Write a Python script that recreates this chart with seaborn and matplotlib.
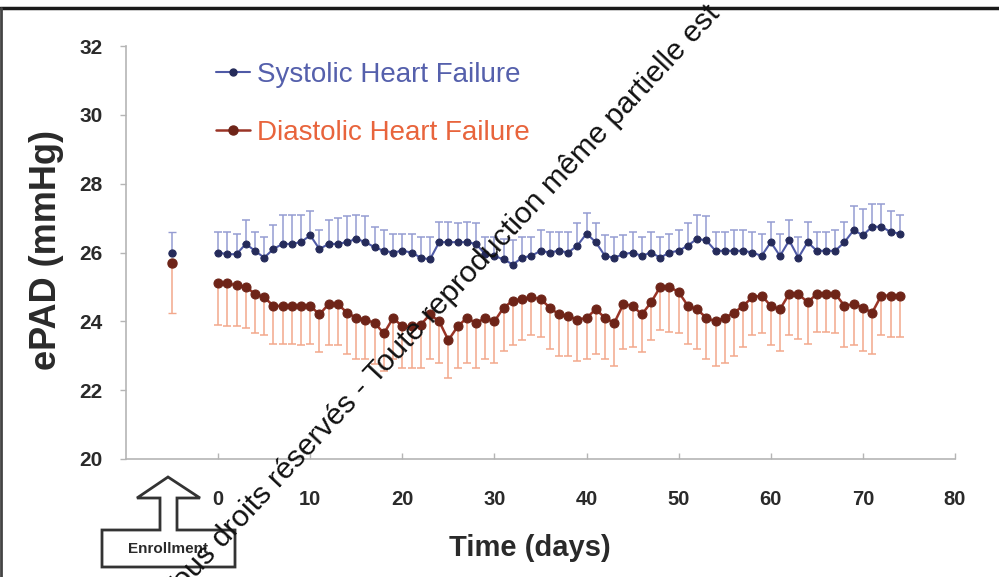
import numpy as np
import pandas as pd
import matplotlib
matplotlib.use("Agg")
import matplotlib.pyplot as plt
import seaborn as sns
from matplotlib.lines import Line2D
from matplotlib.patches import Polygon

# ---- data -------------------------------------------------------------
days = list(range(0, 75))

systolic = [
    26.0, 25.95, 25.95, 26.25, 26.05, 25.85, 26.1, 26.25, 26.25, 26.3,
    26.5, 26.1, 26.25, 26.25, 26.3, 26.4, 26.3, 26.15, 26.05, 26.0,
    26.05, 26.0, 25.85, 25.8, 26.3, 26.3, 26.3, 26.3, 26.25, 25.95,
    25.9, 25.8, 25.65, 25.85, 25.9, 26.05, 26.0, 26.05, 26.0, 26.2,
    26.55, 26.3, 25.9, 25.85, 25.95, 26.0, 25.9, 26.0, 25.85, 26.0,
    26.05, 26.2, 26.4, 26.35, 26.05, 26.05, 26.05, 26.05, 26.0, 25.9,
    26.3, 25.9, 26.35, 25.85, 26.3, 26.05, 26.05, 26.05, 26.3, 26.65,
    26.5, 26.75, 26.75, 26.6, 26.55,
]

diastolic = [
    25.1, 25.1, 25.05, 25.0, 24.8, 24.7, 24.45, 24.45, 24.45, 24.45,
    24.45, 24.2, 24.5, 24.5, 24.25, 24.1, 24.05, 23.95, 23.65, 24.1,
    23.85, 23.85, 23.9, 24.2, 24.0, 23.45, 23.85, 24.1, 23.95, 24.1,
    24.0, 24.4, 24.6, 24.65, 24.7, 24.65, 24.4, 24.2, 24.15, 24.05,
    24.1, 24.35, 24.1, 23.95, 24.5, 24.45, 24.2, 24.55, 25.0, 25.0,
    24.85, 24.45, 24.35, 24.1, 24.0, 24.1, 24.25, 24.45, 24.7, 24.75,
    24.45, 24.35, 24.8, 24.8, 24.55, 24.8, 24.8, 24.8, 24.45, 24.5,
    24.4, 24.25, 24.75, 24.75, 24.75,
]

# one-sided error bars: systolic drawn upward, diastolic downward
systolic_err_up = [
    0.6, 0.65, 0.6, 0.7, 0.55, 0.6, 0.7, 0.85, 0.85, 0.8,
    0.7, 0.55, 0.7, 0.75, 0.75, 0.7, 0.75, 0.6, 0.6, 0.55,
    0.5, 0.55, 0.6, 0.65, 0.6, 0.6, 0.55, 0.6, 0.6, 0.5,
    0.55, 0.6, 0.7, 0.6, 0.55, 0.6, 0.6, 0.55, 0.6, 0.65,
    0.6, 0.55, 0.6, 0.6, 0.55, 0.6, 0.55, 0.6, 0.6, 0.55,
    0.6, 0.65, 0.7, 0.7, 0.55, 0.55, 0.6, 0.6, 0.6, 0.65,
    0.6, 0.65, 0.6, 0.6, 0.6, 0.55, 0.55, 0.6, 0.6, 0.7,
    0.75, 0.65, 0.65, 0.6, 0.55,
]

diastolic_err_down = [
    1.2, 1.25, 1.2, 1.2, 1.15, 1.1, 1.1, 1.1, 1.1, 1.15,
    1.1, 1.1, 1.2, 1.2, 1.2, 1.2, 1.15, 1.2, 1.1, 1.2,
    1.2, 1.2, 1.25, 1.3, 1.2, 1.1, 1.2, 1.3, 1.3, 1.2,
    1.2, 1.25, 1.3, 1.2, 1.1, 1.1, 1.2, 1.2, 1.15, 1.2,
    1.2, 1.3, 1.2, 1.25, 1.3, 1.2, 1.1, 1.1, 1.25, 1.3,
    1.2, 1.1, 1.15, 1.2, 1.3, 1.3, 1.25, 1.2, 1.1, 1.1,
    1.15, 1.2, 1.2, 1.3, 1.2, 1.1, 1.1, 1.15, 1.2, 1.2,
    1.25, 1.2, 1.15, 1.2, 1.2,
]

enroll_day = [-5]
enroll_systolic = [26.0]
enroll_systolic_err = [0.6]
enroll_diastolic = [25.7]
enroll_diastolic_err = [1.45]

x_ticks = [0, 10, 20, 30, 40, 50, 60, 70, 80]
y_ticks = [20, 22, 24, 26, 28, 30, 32]
series_labels = ["Systolic Heart Failure", "Diastolic Heart Failure"]

# ---- colours -----------------------------------------------------------
SYS_LINE = "#4f5aa6"
SYS_MARK = "#252b5a"
SYS_ERR = "#959cd2"
SYS_TEXT = "#5560ac"
DIA_LINE = "#9a3426"
DIA_MARK = "#6e2418"
DIA_ERR = "#f3a88c"
DIA_TEXT = "#e8643c"
AXIS_GREY = "#b5b5b5"
TEXT_DARK = "#2a2a2a"

# ---- figure ------------------------------------------------------------
sns.set_theme(style="white")
plt.rcParams["font.family"] = ["Liberation Sans", "DejaVu Sans"]

W, H = 999, 577
fig = plt.figure(figsize=(W / 100, H / 100), dpi=100)
fig.patch.set_facecolor("white")


def fx(px):
    return px / W


def fy(py):
    return 1 - py / H


AX_L, AX_R, AX_T, AX_B = 126, 955, 46, 459
ax = fig.add_axes([fx(AX_L), fy(AX_B), fx(AX_R) - fx(AX_L), fy(AX_T) - fy(AX_B)])

df_sys = pd.DataFrame({"day": days, "ePAD": systolic})
df_dia = pd.DataFrame({"day": days, "ePAD": diastolic})

zeros = np.zeros(len(days))
ax.errorbar(days, systolic, yerr=[zeros, systolic_err_up], fmt="none",
            ecolor=SYS_ERR, elinewidth=1.1, capsize=3.2, capthick=1.1, zorder=2)
ax.errorbar(days, diastolic, yerr=[diastolic_err_down, zeros], fmt="none",
            ecolor=DIA_ERR, elinewidth=1.1, capsize=3.2, capthick=1.1, zorder=2)

sns.lineplot(data=df_sys, x="day", y="ePAD", ax=ax, color=SYS_LINE, lw=1.5,
             marker="o", markersize=5, markerfacecolor=SYS_MARK,
             markeredgecolor=SYS_MARK, zorder=4)
sns.lineplot(data=df_dia, x="day", y="ePAD", ax=ax, color=DIA_LINE, lw=1.8,
             marker="o", markersize=6.5, markerfacecolor=DIA_MARK,
             markeredgecolor=DIA_MARK, zorder=3)

# baseline values at enrollment
ax.errorbar(enroll_day, enroll_systolic, yerr=[[0], enroll_systolic_err], fmt="o",
            color=SYS_MARK, ms=5, ecolor=SYS_ERR, elinewidth=1.1, capsize=3.2, zorder=4)
ax.errorbar(enroll_day, enroll_diastolic, yerr=[enroll_diastolic_err, [0]], fmt="o",
            color=DIA_MARK, ms=6.5, ecolor=DIA_ERR, elinewidth=1.1, capsize=3.2, zorder=3)

ax.set_xlim(-10, 80)
ax.set_ylim(20, 32)
ax.set_xticks(x_ticks)
ax.set_yticks(y_ticks)
ax.set_xticklabels([str(t) for t in x_ticks], fontsize=14.5, fontweight="bold", color=TEXT_DARK)
ax.set_yticklabels([str(t) for t in y_ticks], fontsize=15, fontweight="bold", color=TEXT_DARK)
ax.tick_params(axis="x", direction="in", length=4, width=1, color=AXIS_GREY, pad=22, bottom=True)
ax.tick_params(axis="y", direction="out", length=4, width=1, color=AXIS_GREY, pad=13, left=True)

for side in ("top", "right"):
    ax.spines[side].set_visible(False)
for side in ("left", "bottom"):
    ax.spines[side].set_color(AXIS_GREY)
    ax.spines[side].set_linewidth(1.2)

ax.set_xlabel("Time (days)", fontsize=21, fontweight="bold", color=TEXT_DARK)
ax.set_ylabel("ePAD (mmHg)", fontsize=26, fontweight="bold", color=TEXT_DARK)
ax.xaxis.set_label_coords((530 - AX_L) / (AX_R - AX_L), (AX_B - 548) / (AX_B - AX_T))
ax.xaxis.label.set_va("center")
ax.yaxis.set_label_coords((47 - AX_L) / (AX_R - AX_L), (AX_B - 250) / (AX_B - AX_T))
ax.yaxis.label.set_va("center")

handles = [
    Line2D([], [], color=SYS_LINE, lw=1.5, marker="o", ms=5,
           markerfacecolor=SYS_MARK, markeredgecolor=SYS_MARK),
    Line2D([], [], color=DIA_LINE, lw=1.8, marker="o", ms=6.5,
           markerfacecolor=DIA_MARK, markeredgecolor=DIA_MARK),
]
ax.legend(handles, series_labels, loc="upper left", bbox_to_anchor=(0.108, 0.962),
          frameon=False, fontsize=20, handlelength=1.25, handletextpad=0.25,
          labelspacing=1.15, labelcolor=[SYS_TEXT, DIA_TEXT], borderpad=0,
          borderaxespad=0)

# enrollment callout: box with an upward hollow arrow
pts_px = [(102, 567), (235, 567), (235, 530), (177, 530), (177, 498), (200, 498),
          (168, 477), (137, 498), (160, 498), (160, 530), (102, 530)]
callout = Polygon([(fx(x), fy(y)) for x, y in pts_px], closed=True, fill=False,
                  edgecolor="#333333", lw=2, transform=fig.transFigure)
fig.add_artist(callout)
fig.text(fx(168), fy(549), "Enrollment", ha="center", va="center", fontsize=11,
         fontweight="bold", color=TEXT_DARK)

# page frame
fig.add_artist(Line2D([0, 1], [fy(8), fy(8)], color="#1a1a1a", lw=2.5,
                      transform=fig.transFigure))
fig.add_artist(Line2D([fx(1), fx(1)], [fy(8), 0], color="#444444", lw=2,
                      transform=fig.transFigure))

# copyright notice running diagonally across the plot
fig.text(fx(174), fy(602), "Tous droits réservés - Toute reproduction même partielle est",
         rotation=47, rotation_mode="anchor", ha="left", va="baseline",
         fontsize=21.8, color="#111111")

fig.savefig("out.png", dpi=100, facecolor="white")
